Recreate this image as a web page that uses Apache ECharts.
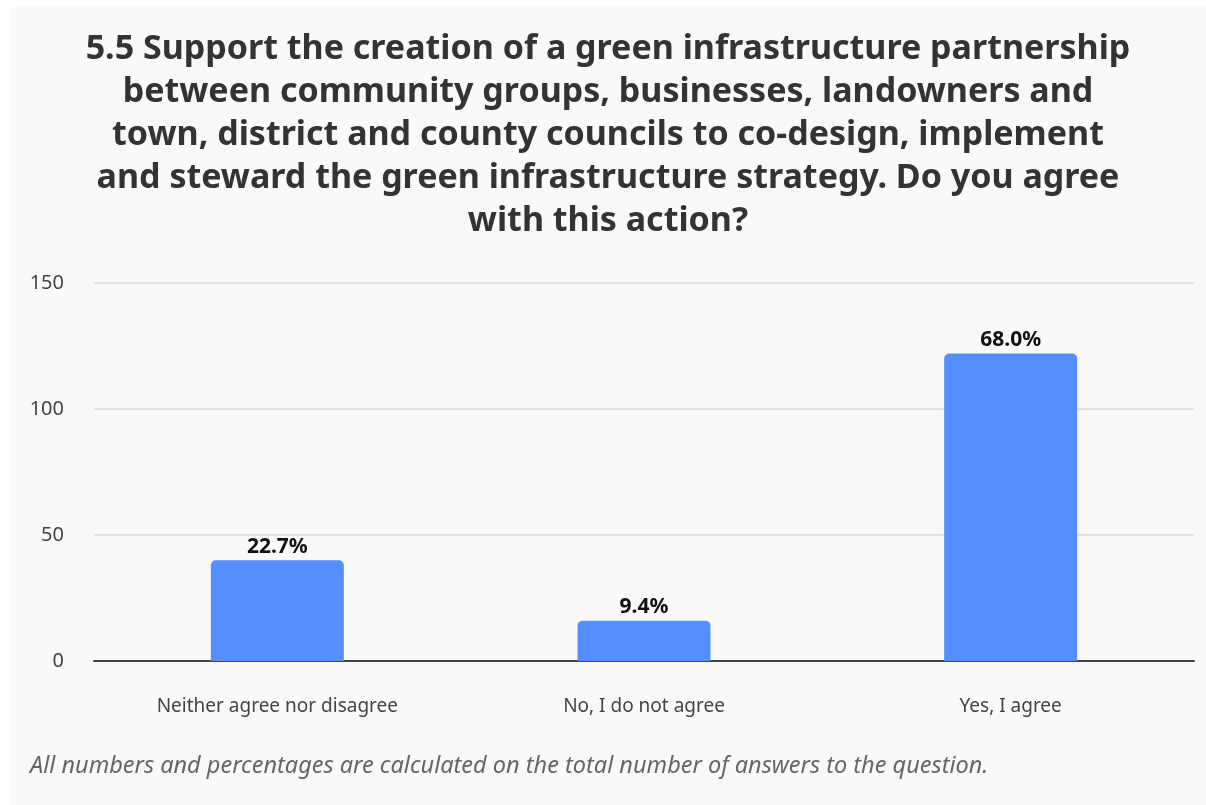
<!DOCTYPE html>
<html>
<head>
<meta charset="utf-8">
<script src="https://cdn.jsdelivr.net/npm/echarts@6/dist/echarts.min.js"></script>
<style>
  html, body { margin: 0; padding: 0; background: #ffffff; }
  #chart { position: absolute; left: 10px; top: 7px; width: 1196px; height: 798px; background: #f9f9f9; }
</style>
</head>
<body>
<div id="chart"></div>
<script>
// Survey answers for question 5.5
const categories = ['Neither agree nor disagree', 'No, I do not agree', 'Yes, I agree'];
const counts = [40, 16, 122];
const percentLabels = ['22.7%', '9.4%', '68.0%'];
const yTicks = [0, 50, 100, 150];

const titleText = [
  '5.5 Support the creation of a green infrastructure partnership',
  'between community groups, businesses, landowners and',
  'town, district and county councils to co-design, implement',
  'and steward the green infrastructure strategy. Do you agree',
  'with this action?'
].join('\n');
const footnote = 'All numbers and percentages are calculated on the total number of answers to the question.';

const FONT = '"Noto Sans", "Open Sans", sans-serif';

const chart = echarts.init(document.getElementById('chart'), null, { renderer: 'canvas' });
chart.setOption({
  backgroundColor: 'transparent',
  animation: false,
  title: {
    text: titleText,
    left: 'center',
    top: 16,
    textStyle: {
      fontFamily: FONT,
      fontSize: 34,
      fontWeight: 'bold',
      color: '#333333',
      lineHeight: 43,
      align: 'center'
    }
  },
  grid: { left: 84, top: 276, width: 1100, height: 378, containLabel: false },
  xAxis: {
    type: 'category',
    data: categories,
    axisLine: { lineStyle: { color: '#444444', width: 2 } },
    axisTick: { show: false },
    axisLabel: { fontFamily: FONT, fontSize: 19, color: '#444444', margin: 36 }
  },
  yAxis: {
    type: 'value',
    min: yTicks[0],
    max: yTicks[yTicks.length - 1],
    interval: 50,
    axisLine: { show: false },
    axisTick: { show: false },
    splitLine: { lineStyle: { color: '#e3e3e3', width: 2 } },
    axisLabel: { fontFamily: FONT, fontSize: 20, color: '#444444', margin: 30 }
  },
  series: [{
    type: 'bar',
    data: counts,
    barWidth: 133,
    itemStyle: { color: '#558fff', borderRadius: [5, 5, 0, 0] },
    label: {
      show: true,
      position: 'top',
      distance: 3,
      formatter: p => percentLabels[p.dataIndex],
      fontFamily: FONT,
      fontSize: 21,
      fontWeight: 'bold',
      color: '#111111'
    }
  }],
  graphic: [{
    type: 'text',
    left: 20,
    top: 748,
    style: {
      text: footnote,
      font: 'italic 23.5px ' + FONT,
      fill: '#666666'
    }
  }]
});
</script>
</body>
</html>
